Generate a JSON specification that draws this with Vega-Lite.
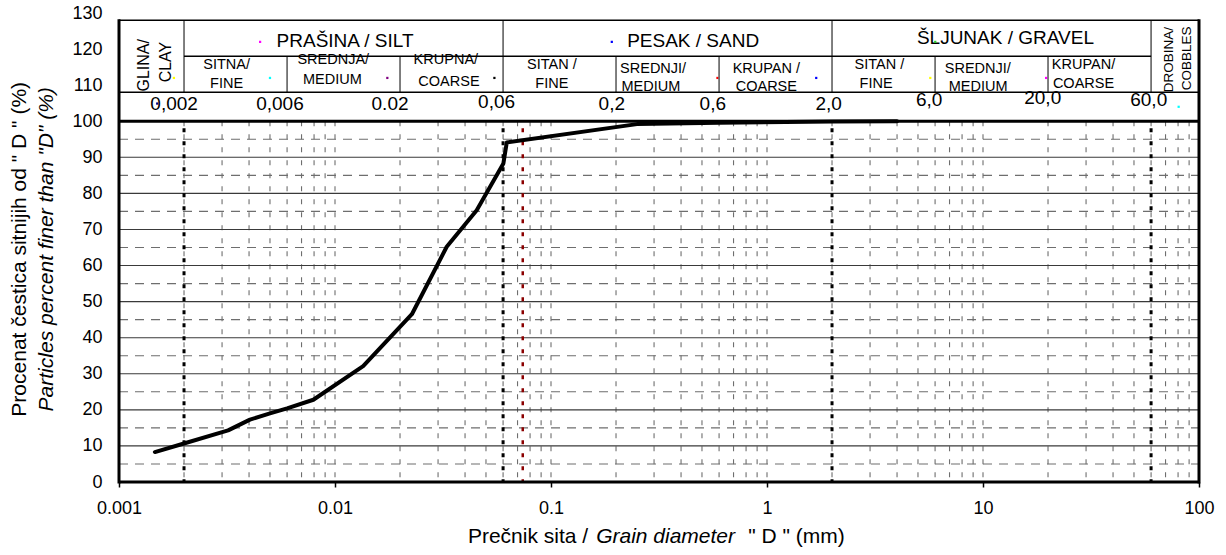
{
  "$schema": "https://vega.github.io/schema/vega-lite/v6.json",
  "width": 1080,
  "height": 469,
  "autosize": {"type": "none"},
  "padding": {"left": 119, "top": 13, "right": 27, "bottom": 73},
  "background": "white",
  "config": {
    "view": {"stroke": null},
    "text": {"font": "Liberation Sans", "color": "black"},
    "axis": {"labelFont": "Liberation Sans"}
  },
  "resolve": {"axis": {"x": "independent", "y": "independent"}},
  "datasets": {
    "curve": [
      {"d": 0.001466, "p": 8.3}, {"d": 0.00198, "p": 10.6}, {"d": 0.0032, "p": 14.3},
      {"d": 0.00404, "p": 17.3}, {"d": 0.005, "p": 19.0}, {"d": 0.006, "p": 20.4},
      {"d": 0.00794, "p": 22.8}, {"d": 0.0135, "p": 32.1}, {"d": 0.0227, "p": 46.5},
      {"d": 0.0329, "p": 65.2}, {"d": 0.0453, "p": 75.3}, {"d": 0.0602, "p": 88.3},
      {"d": 0.0624, "p": 94.1}, {"d": 0.25, "p": 99.2}, {"d": 0.6, "p": 99.6},
      {"d": 2.0, "p": 99.9}, {"d": 4.0, "p": 100}
    ],
    "vgrid": [
      {"d": 0.002}, {"d": 0.003}, {"d": 0.004}, {"d": 0.005}, {"d": 0.006}, {"d": 0.007}, {"d": 0.008}, {"d": 0.009},
      {"d": 0.01}, {"d": 0.02}, {"d": 0.03}, {"d": 0.04}, {"d": 0.05}, {"d": 0.06}, {"d": 0.07}, {"d": 0.08}, {"d": 0.09},
      {"d": 0.1}, {"d": 0.2}, {"d": 0.3}, {"d": 0.4}, {"d": 0.5}, {"d": 0.6}, {"d": 0.7}, {"d": 0.8}, {"d": 0.9},
      {"d": 1}, {"d": 2}, {"d": 3}, {"d": 4}, {"d": 5}, {"d": 6}, {"d": 7}, {"d": 8}, {"d": 9},
      {"d": 10}, {"d": 20}, {"d": 30}, {"d": 40}, {"d": 50}, {"d": 60}, {"d": 70}, {"d": 80}, {"d": 90}
    ],
    "hdash": [{"p": 5}, {"p": 15}, {"p": 25}, {"p": 35}, {"p": 45}, {"p": 55}, {"p": 65}, {"p": 75}, {"p": 85}, {"p": 95}],
    "hsolid": [{"p": 10}, {"p": 20}, {"p": 30}, {"p": 40}, {"p": 50}, {"p": 60}, {"p": 70}, {"p": 80}, {"p": 90}],
    "bounds": [{"d": 0.002}, {"d": 0.06}, {"d": 2}, {"d": 60}],
    "sieve": [{"d": 0.074}],
    "frameh": [{"p": 0}, {"p": 100}],
    "framev": [{"d": 0.001}, {"d": 100}],
    "tabh": [
      {"d1": 0.001, "d2": 100, "p": 128, "part": "top"},
      {"d1": 0.002, "d2": 60, "p": 118, "part": "inner"},
      {"d1": 0.001, "d2": 100, "p": 108, "part": "inner"}
    ],
    "tabv": [
      {"d": 0.002, "p1": 108, "p2": 128}, {"d": 0.06, "p1": 108, "p2": 128},
      {"d": 2, "p1": 108, "p2": 128}, {"d": 60, "p1": 108, "p2": 128},
      {"d": 0.006, "p1": 108, "p2": 118}, {"d": 0.02, "p1": 108, "p2": 118},
      {"d": 0.2, "p1": 108, "p2": 118}, {"d": 0.6, "p1": 108, "p2": 118},
      {"d": 6, "p1": 108, "p2": 118}, {"d": 20, "p1": 108, "p2": 118}
    ],
    "tcat": [
      {"d": 0.01113, "p": 122.3, "t": "PRAŠINA / SILT"},
      {"d": 0.455, "p": 122.3, "t": "PESAK / SAND"},
      {"d": 12.7, "p": 123.1, "t": "ŠLJUNAK / GRAVEL"}
    ],
    "tsub": [
      {"d": 0.00315, "p": 115.5, "t": "SITNA/"}, {"d": 0.00315, "p": 110.3, "t": "FINE"},
      {"d": 0.00982, "p": 116.9, "t": "SREDNJA/"}, {"d": 0.00972, "p": 111.3, "t": "MEDIUM"},
      {"d": 0.0326, "p": 116.9, "t": "KRUPNA/"}, {"d": 0.0337, "p": 110.9, "t": "COARSE"},
      {"d": 0.1009, "p": 115.5, "t": "SITAN /"}, {"d": 0.1009, "p": 110.4, "t": "FINE"},
      {"d": 0.297, "p": 114.4, "t": "SREDNJI/"}, {"d": 0.29, "p": 109.5, "t": "MEDIUM"},
      {"d": 0.993, "p": 114.4, "t": "KRUPAN /"}, {"d": 0.993, "p": 109.5, "t": "COARSE"},
      {"d": 3.316, "p": 115.5, "t": "SITAN /"}, {"d": 3.2, "p": 110.4, "t": "FINE"},
      {"d": 9.46, "p": 114.4, "t": "SREDNJI/"}, {"d": 9.5, "p": 109.5, "t": "MEDIUM"},
      {"d": 29.2, "p": 115.5, "t": "KRUPAN/"}, {"d": 29.2, "p": 110.4, "t": "COARSE"}
    ],
    "trot1": [
      {"d": 0.00131, "p": 115.5, "t": "GLINA/"}, {"d": 0.00165, "p": 116.4, "t": "CLAY"}
    ],
    "trot2": [
      {"d": 72.4, "p": 117.1, "t": "DROBINA/"}, {"d": 88.1, "p": 117.4, "t": "COBBLES"}
    ],
    "tbnd": [
      {"d": 0.0018, "p": 104.9, "t": "0,002"}, {"d": 0.00556, "p": 104.9, "t": "0,006"},
      {"d": 0.01798, "p": 104.9, "t": "0.02"}, {"d": 0.056, "p": 105.3, "t": "0,06"},
      {"d": 0.1912, "p": 104.9, "t": "0,2"}, {"d": 0.561, "p": 104.9, "t": "0,6"},
      {"d": 1.93, "p": 104.9, "t": "2,0"}, {"d": 5.63, "p": 105.8, "t": "6,0"},
      {"d": 18.9, "p": 106.4, "t": "20,0"}, {"d": 58.5, "p": 105.8, "t": "60,0"}
    ],
    "markers": [
      {"d": 0.0045, "p": 122.0, "s": "magenta"}, {"d": 0.001796, "p": 112.0, "s": "yellow"},
      {"d": 0.005, "p": 112.0, "s": "cyan"}, {"d": 0.01747, "p": 112.0, "s": "purple"},
      {"d": 0.0547, "p": 112.0, "s": "black"}, {"d": 0.001503, "p": 104.9, "s": "navy"},
      {"d": 0.1912, "p": 122.0, "s": "blue"}, {"d": 0.5897, "p": 112.0, "s": "red"},
      {"d": 1.69, "p": 112.0, "s": "blue"}, {"d": 6.01, "p": 122.0, "s": "green"},
      {"d": 5.7, "p": 112.0, "s": "yellow"}, {"d": 19.6, "p": 112.0, "s": "magenta"},
      {"d": 80.5, "p": 104.0, "s": "cyan"}
    ],
    "xt_reg": [
      {"d": 0.04125, "p": -15.2, "t": "Prečnik sita /"},
      {"d": 0.8183, "p": -15.2, "t": "\" D \"  (mm)"}
    ],
    "xt_it": [{"d": 0.1618, "p": -15.2, "t": "Grain diameter"}],
    "yt_reg": [{"d": 0.000347, "p": 64.5, "t": "Procenat čestica sitnijih od \" D \" (%)"}],
    "yt_it": [{"d": 0.000462, "p": 64.5, "t": "Particles percent finer than \"D\" (%)"}]
  },
  "layer": [
    {
      "data": {"name": "vgrid"},
      "mark": {"type": "rule", "color": "#6e6e6e", "strokeWidth": 1.1, "strokeDash": [5, 8]},
      "encoding": {
        "x": {"field": "d", "type": "quantitative", "axis": null, "scale": {"type": "log", "domain": [0.001, 100], "nice": false}},
        "y": {"datum": 100, "type": "quantitative", "axis": null, "scale": {"domain": [0, 130], "nice": false, "zero": false}},
        "y2": {"datum": 0}
      }
    },
    {
      "data": {"name": "hdash"},
      "mark": {"type": "rule", "color": "#6e6e6e", "strokeWidth": 1.1, "strokeDash": [9, 7]},
      "encoding": {
        "y": {"field": "p", "type": "quantitative", "axis": null},
        "x": {"datum": 0.001, "type": "quantitative", "axis": null},
        "x2": {"datum": 100}
      }
    },
    {
      "data": {"name": "hsolid"},
      "mark": {"type": "rule", "color": "#3a3a3a", "strokeWidth": 1.1},
      "encoding": {
        "y": {"field": "p", "type": "quantitative", "axis": null},
        "x": {"datum": 0.001, "type": "quantitative", "axis": null},
        "x2": {"datum": 100}
      }
    },
    {
      "data": {"name": "bounds"},
      "mark": {"type": "rule", "color": "black", "strokeWidth": 3, "strokeDash": [4, 9], "strokeDashOffset": 6},
      "encoding": {
        "x": {"field": "d", "type": "quantitative", "axis": null},
        "y": {"datum": 100, "type": "quantitative", "axis": null},
        "y2": {"datum": 0}
      }
    },
    {
      "data": {"name": "sieve"},
      "mark": {"type": "rule", "color": "#8b0000", "strokeWidth": 2.5, "strokeDash": [4, 9], "strokeDashOffset": 6},
      "encoding": {
        "x": {"field": "d", "type": "quantitative", "axis": null},
        "y": {"datum": 100, "type": "quantitative", "axis": null},
        "y2": {"datum": 0}
      }
    },
    {
      "data": {"name": "curve"},
      "mark": {"type": "line", "color": "black", "strokeWidth": 4, "strokeJoin": "round", "strokeCap": "round"},
      "encoding": {
        "x": {
          "field": "d", "type": "quantitative",
          "axis": {
            "orient": "bottom",
            "values": [0.001, 0.01, 0.1, 1, 10, 100], "format": "~g",
            "labelFontSize": 18, "labelColor": "black", "labelPadding": 12, "labelFlush": false, "labelOverlap": false,
            "tickSize": 5, "tickColor": "black", "tickWidth": 1.5,
            "domain": false, "grid": false, "title": null
          }
        },
        "y": {
          "field": "p", "type": "quantitative",
          "axis": {
            "orient": "left",
            "values": [0, 10, 20, 30, 40, 50, 60, 70, 80, 90, 100, 110, 120, 130],
            "labelFontSize": 18, "labelColor": "black", "labelPadding": 17, "labelOverlap": false, "labelFlush": false,
            "ticks": false, "domain": false, "grid": false, "title": null
          }
        }
      }
    },
    {
      "data": {"name": "tsub"},
      "mark": {"type": "text", "fontSize": 14.5, "align": "center", "baseline": "middle"},
      "encoding": {
        "x": {"field": "d", "type": "quantitative", "axis": null},
        "y": {"field": "p", "type": "quantitative", "axis": null},
        "text": {"field": "t"}
      }
    },
    {
      "data": {"name": "framev"},
      "mark": {"type": "rect", "color": "white"},
      "encoding": {
        "x": {"datum": 0.001, "type": "quantitative", "axis": null},
        "x2": {"datum": 100},
        "y": {"datum": 100.6, "type": "quantitative", "axis": null},
        "y2": {"datum": 108}
      }
    },
    {
      "data": {"name": "tcat"},
      "mark": {"type": "text", "fontSize": 19, "align": "center", "baseline": "middle"},
      "encoding": {
        "x": {"field": "d", "type": "quantitative", "axis": null},
        "y": {"field": "p", "type": "quantitative", "axis": null},
        "text": {"field": "t"}
      }
    },
    {
      "data": {"name": "tbnd"},
      "mark": {"type": "text", "fontSize": 19, "align": "center", "baseline": "middle"},
      "encoding": {
        "x": {"field": "d", "type": "quantitative", "axis": null},
        "y": {"field": "p", "type": "quantitative", "axis": null},
        "text": {"field": "t"}
      }
    },
    {
      "data": {"name": "trot1"},
      "mark": {"type": "text", "fontSize": 16, "align": "center", "baseline": "middle", "angle": 270},
      "encoding": {
        "x": {"field": "d", "type": "quantitative", "axis": null},
        "y": {"field": "p", "type": "quantitative", "axis": null},
        "text": {"field": "t"}
      }
    },
    {
      "data": {"name": "trot2"},
      "mark": {"type": "text", "fontSize": 13.5, "align": "center", "baseline": "middle", "angle": 270},
      "encoding": {
        "x": {"field": "d", "type": "quantitative", "axis": null},
        "y": {"field": "p", "type": "quantitative", "axis": null},
        "text": {"field": "t"}
      }
    },
    {
      "data": {"name": "markers"},
      "mark": {"type": "square", "size": 5, "filled": true, "opacity": 1},
      "encoding": {
        "x": {"field": "d", "type": "quantitative", "axis": null},
        "y": {"field": "p", "type": "quantitative", "axis": null},
        "color": {
          "field": "s", "type": "nominal", "legend": null,
          "scale": {
            "domain": ["magenta", "yellow", "cyan", "purple", "black", "navy", "blue", "red", "green"],
            "range": ["#ff00ff", "#ffff00", "#00ffff", "#800080", "#000000", "#000080", "#0000ff", "#ff0000", "#33cc33"]
          }
        }
      }
    },
    {
      "data": {"name": "tabv"},
      "mark": {"type": "rule", "color": "#555555", "strokeWidth": 1.5},
      "encoding": {
        "x": {"field": "d", "type": "quantitative", "axis": null},
        "y": {"field": "p1", "type": "quantitative", "axis": null},
        "y2": {"field": "p2"}
      }
    },
    {
      "data": {"name": "tabh"},
      "mark": {"type": "rule", "color": "black", "strokeWidth": 1.5},
      "encoding": {
        "x": {"field": "d1", "type": "quantitative", "axis": null},
        "x2": {"field": "d2"},
        "y": {"field": "p", "type": "quantitative", "axis": null},
        "strokeWidth": {"condition": {"test": "datum.part === 'top'", "value": 2.5}, "value": 1.5}
      }
    },
    {
      "data": {"name": "framev"},
      "mark": {"type": "rule", "color": "black", "strokeWidth": 3},
      "encoding": {
        "x": {"field": "d", "type": "quantitative", "axis": null},
        "y": {"datum": -0.4, "type": "quantitative", "axis": null},
        "y2": {"datum": 128.3}
      }
    },
    {
      "data": {"name": "frameh"},
      "mark": {"type": "rule", "color": "black", "strokeWidth": 3},
      "encoding": {
        "y": {"field": "p", "type": "quantitative", "axis": null},
        "x": {"datum": 0.001, "type": "quantitative", "axis": null},
        "x2": {"datum": 100}
      }
    },
    {
      "data": {"name": "xt_reg"},
      "mark": {"type": "text", "fontSize": 21, "align": "left", "baseline": "middle"},
      "encoding": {
        "x": {"field": "d", "type": "quantitative", "axis": null},
        "y": {"field": "p", "type": "quantitative", "axis": null},
        "text": {"field": "t"}
      }
    },
    {
      "data": {"name": "xt_it"},
      "mark": {"type": "text", "fontSize": 21, "align": "left", "baseline": "middle", "fontStyle": "italic"},
      "encoding": {
        "x": {"field": "d", "type": "quantitative", "axis": null},
        "y": {"field": "p", "type": "quantitative", "axis": null},
        "text": {"field": "t"}
      }
    },
    {
      "data": {"name": "yt_reg"},
      "mark": {"type": "text", "fontSize": 21, "align": "center", "baseline": "middle", "angle": 270},
      "encoding": {
        "x": {"field": "d", "type": "quantitative", "axis": null},
        "y": {"field": "p", "type": "quantitative", "axis": null},
        "text": {"field": "t"}
      }
    },
    {
      "data": {"name": "yt_it"},
      "mark": {"type": "text", "fontSize": 21, "align": "center", "baseline": "middle", "angle": 270, "fontStyle": "italic"},
      "encoding": {
        "x": {"field": "d", "type": "quantitative", "axis": null},
        "y": {"field": "p", "type": "quantitative", "axis": null},
        "text": {"field": "t"}
      }
    }
  ]
}
